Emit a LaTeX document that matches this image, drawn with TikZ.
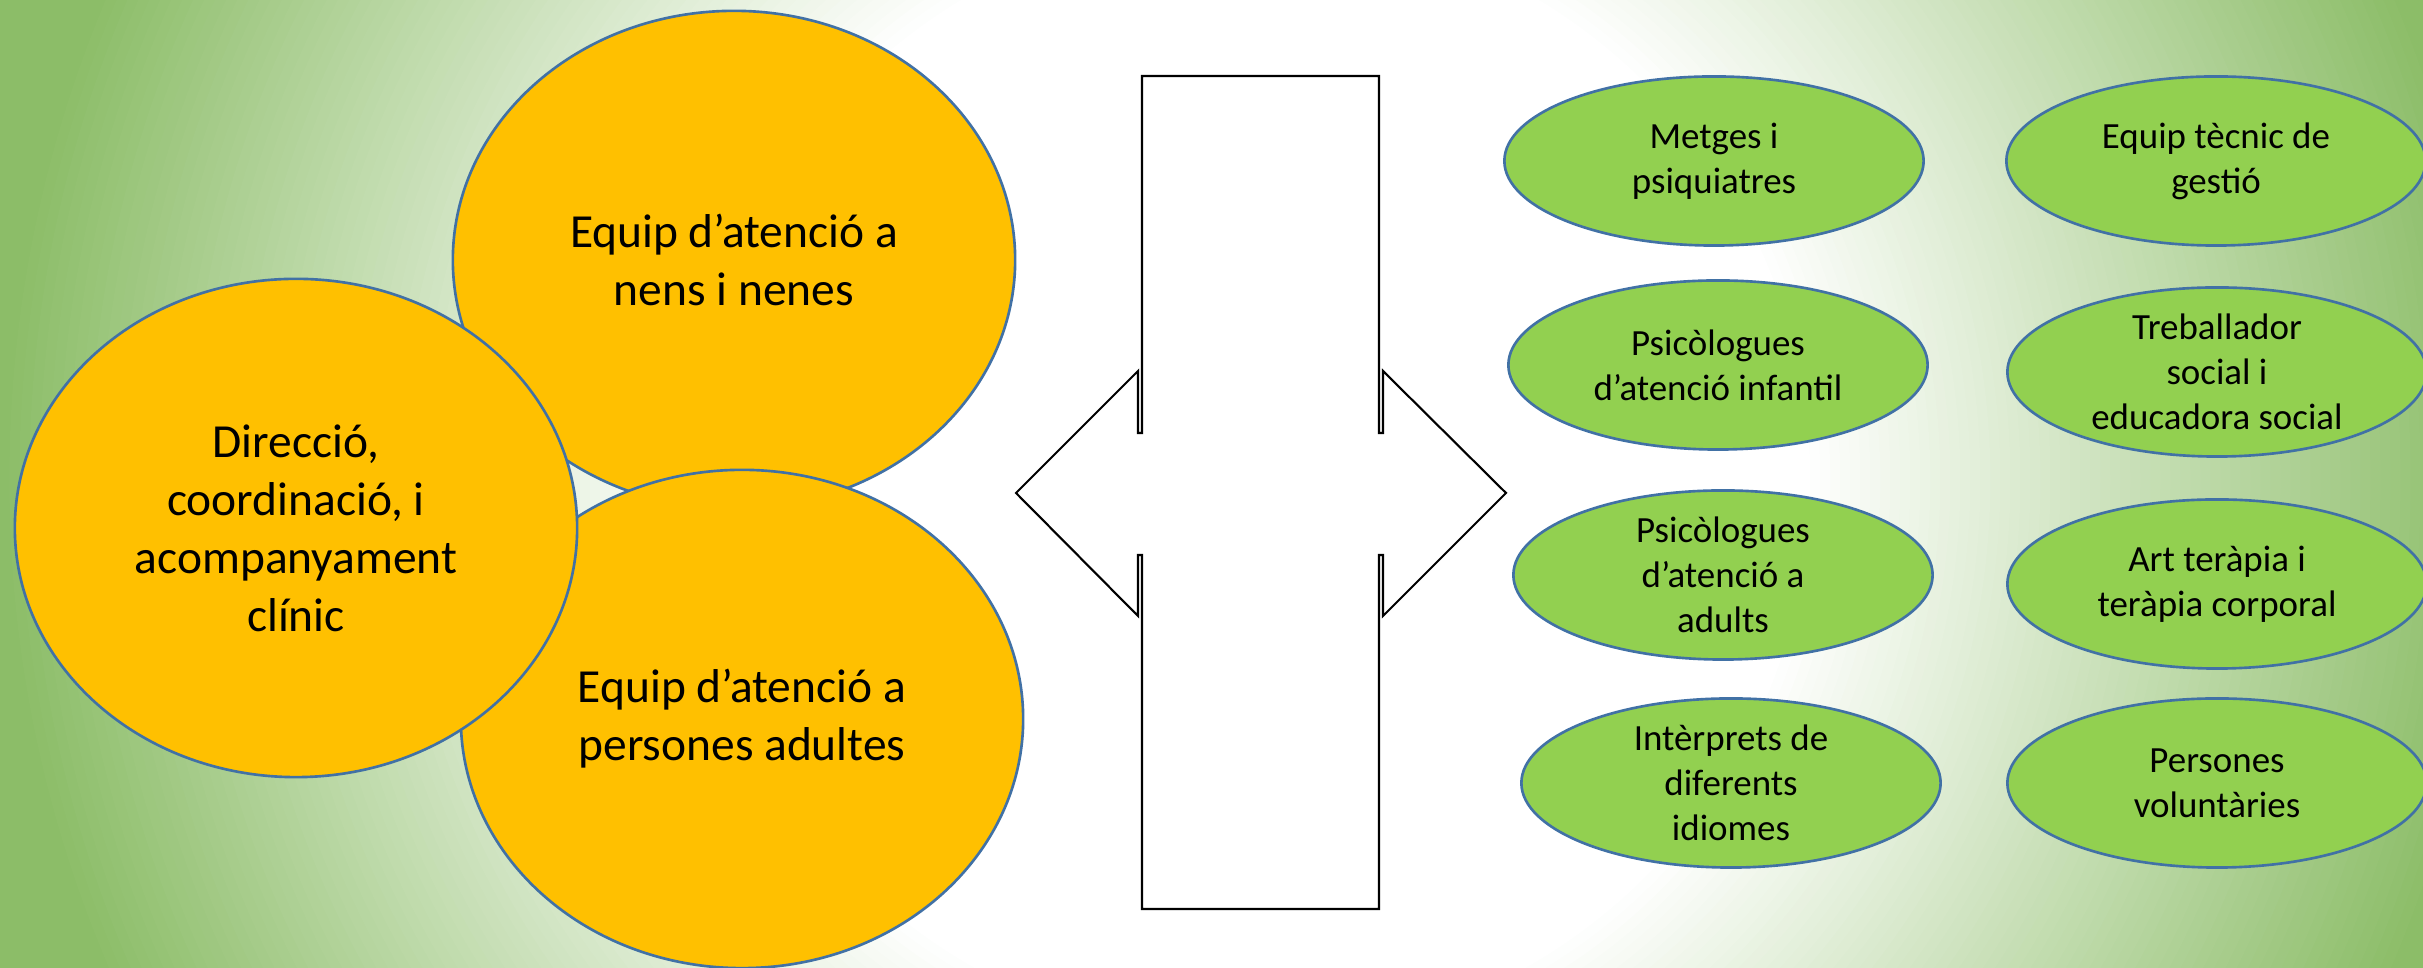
\documentclass[tikz,border=0pt]{standalone}
\usepackage{fontspec}
\setmainfont{Carlito}
\usetikzlibrary{shapes.geometric}
\definecolor{bgg}{RGB}{140,189,104}
\definecolor{orangefill}{HTML}{FFC000}
\definecolor{greenfill}{HTML}{92D050}
\definecolor{ellstroke}{RGB}{65,113,165}
\tikzset{
  oell/.style={ellipse, draw=ellstroke, line width=0.75pt, fill=orangefill, inner sep=0pt, minimum width=5.62cm, minimum height=4.98cm},
  gell/.style={ellipse, draw=ellstroke, line width=0.75pt, fill=greenfill, inner sep=0pt, minimum width=4.19cm, minimum height=1.69cm},
  otxt/.style={align=center, inner sep=0pt, font=\fontsize{13.5}{16.5}\selectfont},
  gtxt/.style={align=center, inner sep=0pt, font=\fontsize{10.5}{12.8}\selectfont},
  arrowshape/.style={draw=black, fill=white, line width=0.6pt, line join=miter}
}
\begin{document}
\begin{tikzpicture}[x=0.01cm,y=-0.01cm]
\useasboundingbox (0,0) rectangle (2423,968);
% background: radial gradient built from rings
\begin{scope}
\clip (0,0) rectangle (2423,968);
\fill[bgg] (0,0) rectangle (2423,968);
\foreach \k in {0,...,69}{
  \pgfmathsetmacro{\rr}{(1250-\k*10)/100}
  \pgfmathsetmacro{\pp}{(1250-\k*10-560)/6.9}
  \fill[bgg!\pp!white] (1250,480) circle ({\rr cm});
}
\fill[white] (1250,480) circle (5.6cm);
\end{scope}
% double arrow with central block
\draw[arrowshape] (1142,76) -- (1379,76) -- (1379,433) -- (1383,433) -- (1383,371)
  -- (1506,493) -- (1383,616) -- (1383,555) -- (1379,555) -- (1379,909)
  -- (1142,909) -- (1142,555) -- (1138,555) -- (1138,616) -- (1016,493)
  -- (1138,371) -- (1138,433) -- (1142,433) -- cycle;
% orange ellipses
\node[oell] (nens) at (734,260) {};
\node[oell] (adults) at (742,719) {};
\node[oell] (dir) at (296,528) {};
\node[otxt] (tnens) at (nens) {Equip d’atenció a\\nens i nenes};
\node[otxt] (tadults) at (adults) {Equip d’atenció a\\persones adultes};
\node[otxt] (tdir) at (dir) {Direcció,\\coordinació, i\\acompanyament\\clínic};
% green ellipses, left column
\node[gell] (g1) at (1714,161) {};
\node[gell] (g2) at (1718,365) {};
\node[gell] (g3) at (1723,575) {};
\node[gell] (g4) at (1731,783) {};
% right column
\node[gell] (g5) at (2216,161) {};
\node[gell] (g6) at (2217,372) {};
\node[gell] (g7) at (2217,584) {};
\node[gell] (g8) at (2217,783) {};
\node[gtxt] at (g1) {Metges i\\psiquiatres};
\node[gtxt] at (g2) {Psicòlogues\\d’atenció infantil};
\node[gtxt] at (g3) {Psicòlogues\\d’atenció a\\adults};
\node[gtxt] at (g4) {Intèrprets de\\diferents\\idiomes};
\node[gtxt] at (g5) {Equip tècnic de\\gestió};
\node[gtxt] at (g6) {Treballador\\social i\\educadora social};
\node[gtxt] at (g7) {Art teràpia i\\teràpia corporal};
\node[gtxt] at (g8) {Persones\\voluntàries};
\end{tikzpicture}
\end{document}
